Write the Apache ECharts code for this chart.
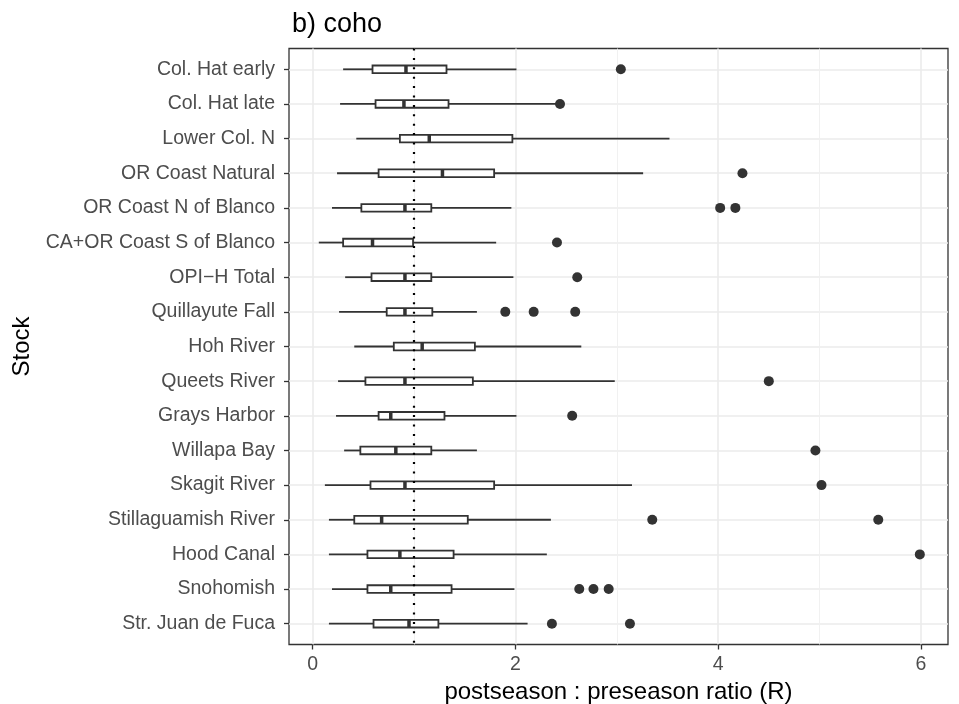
<!DOCTYPE html>
<html>
<head>
<meta charset="utf-8">
<script src="https://cdn.jsdelivr.net/npm/echarts@6/dist/echarts.min.js"></script>
<style>
  html, body { margin: 0; padding: 0; background: #fff; }
  #chart { width: 959px; height: 704px; }
</style>
</head>
<body>
<div id="chart"></div>
<script>
// 数据
var stocks = ['Col. Hat early', 'Col. Hat late', 'Lower Col. N', 'OR Coast Natural',
    'OR Coast N of Blanco', 'CA+OR Coast S of Blanco', 'OPI\u2212H Total', 'Quillayute Fall',
    'Hoh River', 'Queets River', 'Grays Harbor', 'Willapa Bay', 'Skagit River',
    'Stillaguamish River', 'Hood Canal', 'Snohomish', 'Str. Juan de Fuca'];
var whiskerLow  = [0.30, 0.27, 0.43, 0.24, 0.19, 0.06, 0.32, 0.26, 0.41, 0.25, 0.23, 0.31, 0.12, 0.16, 0.16, 0.19, 0.16];
var q1          = [0.59, 0.62, 0.86, 0.65, 0.48, 0.30, 0.58, 0.73, 0.80, 0.52, 0.65, 0.47, 0.57, 0.41, 0.54, 0.54, 0.60];
var median      = [0.92, 0.90, 1.15, 1.28, 0.91, 0.59, 0.91, 0.91, 1.08, 0.91, 0.77, 0.82, 0.91, 0.68, 0.86, 0.77, 0.95];
var q3          = [1.32, 1.34, 1.97, 1.79, 1.17, 0.99, 1.17, 1.18, 1.60, 1.58, 1.30, 1.17, 1.79, 1.53, 1.39, 1.37, 1.24];
var whiskerHigh = [2.01, 2.40, 3.52, 3.26, 1.96, 1.81, 1.98, 1.62, 2.65, 2.98, 2.01, 1.62, 3.15, 2.35, 2.31, 1.99, 2.12];
// [stock index, value]
var outliers = [
    [0, 3.04], [1, 2.44], [3, 4.24], [4, 4.02], [4, 4.17], [5, 2.41], [6, 2.61],
    [7, 1.90], [7, 2.18], [7, 2.59], [9, 4.50], [10, 2.56], [11, 4.96], [12, 5.02],
    [13, 3.35], [13, 5.58], [14, 5.99], [15, 2.63], [15, 2.77], [15, 2.92], [16, 2.36], [16, 3.13]
];
var xMajorTicks = [0, 2, 4, 6];
var xMinorTicks = [1, 3, 5];
var refLine = 1;

var FONT = "'Liberation Sans', Arial, Helvetica, sans-serif";
var DARK = '#333333';

var boxData = [];
for (var i = 0; i < stocks.length; i++) {
    boxData.push([i, whiskerLow[i], q1[i], median[i], q3[i], whiskerHigh[i]]);
}
var outlierData = outliers.map(function (o) { return [o[1], o[0]]; });
var stockIdx = stocks.map(function (s, i) { return i; });

function renderBox(params, api) {
    var yi = api.value(0);
    var lo = api.coord([api.value(1), yi]);
    var a = api.coord([api.value(2), yi]);
    var md = api.coord([api.value(3), yi]);
    var b = api.coord([api.value(4), yi]);
    var hi = api.coord([api.value(5), yi]);
    var h = api.size([0, 1])[1] * 0.22;
    return {
        type: 'group',
        children: [
            { type: 'line', shape: { x1: lo[0], y1: lo[1], x2: a[0], y2: a[1] }, style: { stroke: DARK, lineWidth: 1.8 } },
            { type: 'line', shape: { x1: b[0], y1: b[1], x2: hi[0], y2: hi[1] }, style: { stroke: DARK, lineWidth: 1.8 } },
            { type: 'rect', shape: { x: a[0], y: a[1] - h / 2, width: b[0] - a[0], height: h }, style: { fill: '#fff', stroke: DARK, lineWidth: 1.8 } },
            { type: 'line', shape: { x1: md[0], y1: md[1] - h / 2, x2: md[0], y2: md[1] + h / 2 }, style: { stroke: DARK, lineWidth: 3.5 } }
        ]
    };
}

var chart = echarts.init(document.getElementById('chart'));
chart.setOption({
    backgroundColor: '#fff',
    animation: false,
    title: {
        text: 'b) coho',
        left: 287,
        top: 6,
        textStyle: { fontFamily: FONT, fontSize: 27, fontWeight: 'normal', color: '#000' }
    },
    grid: {
        left: 289, top: 48.5, width: 659, height: 596,
        outerBoundsMode: 'none',
        show: true, borderColor: DARK, borderWidth: 1.3, backgroundColor: 'transparent'
    },
    xAxis: [
        {
            type: 'value', min: -0.234, max: 6.268,
            name: 'postseason : preseason ratio (R)',
            nameLocation: 'middle', nameGap: 36,
            nameTextStyle: { fontFamily: FONT, fontSize: 24, color: '#000' },
            axisLine: { show: false, onZero: false },
            axisTick: { show: true, length: 5, customValues: xMajorTicks, lineStyle: { color: DARK, width: 1.3 } },
            axisLabel: { customValues: xMajorTicks, margin: 10, fontFamily: FONT, fontSize: 19.5, color: '#4D4D4D' },
            splitLine: { show: true, lineStyle: { color: '#EBEBEB', width: 1.6 } }
        },
        {
            type: 'value', min: -0.234, max: 6.268, position: 'bottom',
            axisLine: { show: false, onZero: false },
            axisTick: { show: false, customValues: xMinorTicks },
            axisLabel: { show: false, customValues: xMinorTicks },
            splitLine: { show: true, lineStyle: { color: '#EFEFEF', width: 0.9 } }
        }
    ],
    yAxis: {
        type: 'value', inverse: true, min: -0.6, max: 16.6,
        name: 'Stock', nameLocation: 'middle', nameGap: 254, nameRotate: 90,
        nameTextStyle: { fontFamily: FONT, fontSize: 24, color: '#000' },
        axisLine: { show: false, onZero: false },
        axisTick: { show: true, length: 5, customValues: stockIdx, lineStyle: { color: DARK, width: 1.3 } },
        axisLabel: {
            customValues: stockIdx, margin: 14, fontFamily: FONT, fontSize: 19.5, color: '#4D4D4D',
            formatter: function (v) { return stocks[Math.round(v)]; }
        },
        splitLine: { show: true, lineStyle: { color: '#EBEBEB', width: 1.6 } }
    },
    series: [
        {
            type: 'custom',
            name: 'box',
            renderItem: renderBox,
            encode: { x: [1, 2, 3, 4, 5], y: 0 },
            data: boxData,
            z: 2
        },
        {
            type: 'scatter',
            name: 'outliers',
            symbol: 'circle',
            symbolSize: 10,
            itemStyle: { color: DARK, opacity: 1 },
            data: outlierData,
            z: 3
        },
        {
            type: 'line',
            name: 'ref',
            data: [],
            z: 5,
            markLine: {
                silent: true,
                symbol: 'none',
                label: { show: false },
                lineStyle: { color: '#000', width: 2.2, type: [2, 7.4], cap: 'butt' },
                data: [{ xAxis: refLine }]
            }
        }
    ]
});
</script>
</body>
</html>
